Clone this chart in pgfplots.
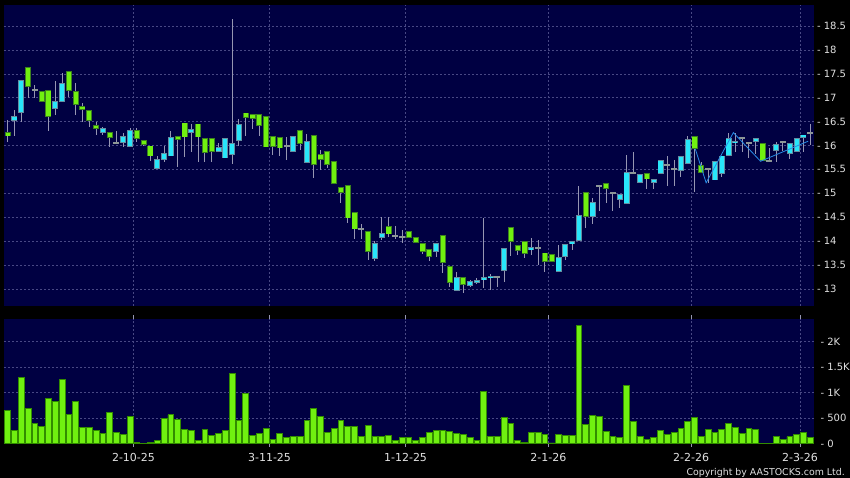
\documentclass[border=0pt]{standalone}
\usepackage{pgfplots}
\pgfplotsset{compat=1.18}
\usepackage{pgfplotstable}
\usepackage{fontspec}
\setmainfont{DejaVu Sans}
\definecolor{navy}{RGB}{0,0,66}
\definecolor{gridc}{RGB}{72,72,132}
\definecolor{wickc}{RGB}{150,150,178}
\definecolor{greenfill}{RGB}{112,240,16}
\definecolor{greenborder}{RGB}{60,130,30}
\definecolor{cyanfill}{RGB}{40,230,250}
\definecolor{cyanborder}{RGB}{100,140,160}
\definecolor{dojic}{RGB}{140,150,150}
\definecolor{lineblue}{RGB}{40,140,230}
\definecolor{labelc}{RGB}{225,225,225}
\definecolor{volborder}{RGB}{50,140,0}

\pgfplotstableread{
k O H L C
0 16.275 16.53 16.08 16.19
3 17.65 17.65 16.99 17.217
5 17.146 17.15 16.90 16.904
6 17.16 17.16 16.31 16.60
9 17.55 17.56 17.02 17.134
10 17.134 17.30 16.64 16.84
11 16.826 16.88 16.50 16.742
12 16.742 16.742 16.39 16.52
13 16.42 16.50 16.22 16.34
15 16.29 16.29 15.975 16.15
19 16.324 16.36 16.08 16.13
20 16.115 16.115 16.0 16.02
21 16.0 16.0 15.68 15.77
25 16.19 16.19 15.54 16.11
26 16.48 16.48 15.75 16.17
28 16.46 16.46 15.66 16.17
29 16.16 16.16 15.66 15.85
30 16.15 16.15 15.65 15.86
35 16.69 16.69 16.2 16.57
36 16.66 16.66 16.34 16.55
37 16.66 16.66 16.2 16.41
38 16.615 16.615 15.96 15.96
39 16.2 16.2 15.80 15.976
40 16.17 16.17 15.77 15.94
43 16.32 16.32 15.9 16.03
45 16.22 16.22 15.33 15.59
46 15.82 15.906 15.49 15.70
47 15.89 15.89 15.52 15.585
48 15.68 15.68 15.195 15.195
49 15.125 15.125 14.79 15.0
50 15.165 15.165 14.385 14.475
51 14.60 14.60 14.04 14.245
53 14.21 14.21 13.6 13.78
56 14.32 14.50 14.08 14.14
59 14.21 14.21 14.07 14.07
60 14.08 14.08 13.95 13.955
61 13.95 13.95 13.73 13.765
62 13.83 13.83 13.59 13.67
64 14.12 14.12 13.33 13.55
65 13.48 13.48 13.05 13.13
67 13.24 13.24 12.92 13.09
74 14.29 14.29 13.69 13.99
75 13.91 13.91 13.71 13.80
76 14.0 14.0 13.64 13.73
79 13.76 13.76 13.36 13.57
80 13.72 13.72 13.57 13.57
85 15.02 15.02 14.28 14.50
88 15.21 15.21 14.80 15.10
94 15.43 15.43 15.10 15.29
101 16.20 16.20 15.03 15.92
102 15.585 15.66 15.42 15.42
111 16.05 16.05 15.68 15.68
}\down

\pgfplotstableread{
k O H L C
1 16.506 16.743 16.206 16.617
2 16.673 17.38 16.50 17.37
7 16.764 17.35 16.64 16.93
8 16.916 17.52 16.90 17.30
14 16.255 16.39 16.22 16.36
17 16.046 16.27 15.975 16.20
18 15.975 16.36 15.975 16.324
22 15.51 15.77 15.50 15.72
23 15.70 16.0 15.65 15.84
24 15.77 16.30 15.77 16.18
27 16.255 16.44 15.86 16.34
31 15.86 16.06 15.86 15.96
32 15.73 16.15 15.73 16.15
33 15.80 18.65 15.62 16.05
34 16.10 16.56 16.0 16.45
42 15.86 16.2 15.86 16.2
44 15.63 16.24 15.63 16.09
54 13.62 14.01 13.59 13.95
55 14.07 14.51 14.02 14.16
63 13.765 13.95 13.67 13.95
66 12.95 13.36 12.95 13.24
68 13.07 13.19 13.03 13.165
69 13.12 13.22 13.10 13.19
70 13.18 14.49 13.01 13.245
71 13.22 13.32 12.98 13.26
73 13.38 13.85 13.15 13.85
77 13.815 14.06 13.70 13.875
81 13.36 13.92 13.36 13.66
82 13.66 13.93 13.6 13.93
83 13.94 14.0 13.81 14.0
84 14.0 15.15 14.0 14.55
86 14.50 14.90 14.35 14.81
90 14.87 14.98 14.70 14.98
91 14.78 15.80 14.78 15.44
93 15.21 15.40 15.21 15.40
95 15.21 15.29 15.10 15.29
96 15.41 15.70 15.41 15.69
99 15.46 15.78 15.35 15.78
100 15.61 16.20 15.61 16.13
104 15.27 15.68 15.27 15.68
105 15.40 15.79 15.35 15.79
106 15.78 16.27 15.78 16.15
107 16.05 16.27 15.87 16.10
110 16.08 16.15 15.83 16.15
113 15.885 16.08 15.66 16.025
115 15.82 16.05 15.72 16.05
116 15.87 16.16 15.87 16.15
117 16.15 16.23 15.87 16.23
}\up

\pgfplotstableread{
k O H L C
4 17.16 17.27 16.99 17.16
16 16.06 16.31 16.03 16.06
41 15.99 16.18 15.70 15.99
52 14.25 14.36 14.04 14.25
57 14.11 14.31 14.05 14.11
58 14.09 14.23 13.97 14.09
72 13.25 13.25 13.05 13.25
78 13.85 14.03 13.5 13.85
87 15.15 15.15 14.62 15.15
89 15.0 15.03 14.62 15.0
92 15.43 15.86 15.43 15.43
97 15.59 15.78 15.16 15.59
98 15.50 15.69 15.16 15.50
103 15.50 15.50 15.21 15.50
108 16.16 16.16 15.87 16.16
109 16.06 16.06 15.73 16.06
112 15.68 15.95 15.68 15.68
114 16.07 16.07 15.88 16.07
118 16.255 16.44 16.02 16.255
}\doji

\pgfplotstableread{
k v
0 654
1 261
2 1294
3 680
4 392
5 340
6 876
7 830
8 1261
9 575
10 830
11 314
12 314
13 261
14 196
15 608
16 222
17 170
18 523
19 20
20 5
21 20
22 59
23 484
24 562
25 477
26 281
27 261
28 65
29 281
30 163
31 196
32 248
33 1373
34 458
35 980
36 157
37 190
38 301
39 85
40 190
41 124
42 144
43 144
44 444
45 680
46 523
47 222
48 294
49 451
50 327
51 333
52 144
53 359
54 131
55 144
56 163
57 59
58 124
59 118
60 52
61 124
62 222
63 248
64 248
65 242
66 190
67 183
68 124
69 52
70 1013
71 131
72 131
73 516
74 399
75 59
76 20
77 209
78 222
79 176
80 10
81 176
82 163
83 150
84 2314
85 373
86 549
87 529
88 242
89 137
90 111
91 1131
92 431
93 131
94 72
95 111
96 261
97 183
98 209
99 294
100 425
101 516
102 137
103 275
104 216
105 268
106 386
107 320
108 190
109 294
110 275
111 5
112 5
113 131
114 85
115 137
116 170
117 216
118 118
}\vol

\pgfplotsset{
  panel/.style={
    scale only axis,
    xmin=-0.54, xmax=118.56,
    axis background/.style={fill=navy},
    axis line style={draw=none},
    xtick={18.5,38.5,58.5,79.5,100.5,116.5},
    xmajorgrids, ymajorgrids,
    major grid style={draw=gridc, dash pattern=on 2pt off 2pt, line width=0.6pt},
    ytick style={draw=none},
    yticklabel pos=right,
    tick label style={font=\fontsize{10}{12}\selectfont, text=labelc},
    yticklabel style={anchor=west, inner sep=0pt, xshift=3pt},
    /pgf/number format/assume math mode=true,
  },
  wick/.style={draw=none, mark=none, fill=none, forget plot,
    error bars/.cd, y dir=both, y explicit, error mark=none,
    error bar style={draw=wickc, line width=1pt, solid}},
  body/.style 2 args={draw=none, mark=none, fill=none, forget plot,
    error bars/.cd, y dir=both, y explicit, error mark=none,
    error bar style={draw=#1, line width=#2, solid}},
}

\begin{document}
\begin{tikzpicture}[x=1pt,y=1pt]
\fill[black] (0,0) rectangle (850,478);

% price panel
\begin{axis}[panel, at={(4pt,172pt)}, anchor=south west,
  width=810pt, height=301pt,
  ymin=12.642, ymax=18.94,
  ytick={13,13.5,14,14.5,15,15.5,16,16.5,17,17.5,18,18.5},
  yticklabel={-\hspace{3pt}\pgfmathprintnumber{\tick}},
  xticklabels={}, xtick style={draw=none}]
% wicks
\addplot[wick] table[x=k, y expr={(\thisrow{H}+\thisrow{L})/2}, y error expr={(\thisrow{H}-\thisrow{L})/2}] \down;
\addplot[wick] table[x=k, y expr={(\thisrow{H}+\thisrow{L})/2}, y error expr={(\thisrow{H}-\thisrow{L})/2}] \up;
\addplot[wick] table[x=k, y expr={(\thisrow{H}+\thisrow{L})/2}, y error expr={(\thisrow{H}-\thisrow{L})/2}] \doji;
% bodies: down (green)
\addplot[body={greenborder}{6pt}] table[x=k, y expr={(\thisrow{O}+\thisrow{C})/2}, y error expr={max(abs(\thisrow{O}-\thisrow{C})/2,0.012)}] \down;
\addplot[body={greenfill}{4.2pt}] table[x=k, y expr={(\thisrow{O}+\thisrow{C})/2}, y error expr={max(abs(\thisrow{O}-\thisrow{C})/2-0.018,0.0001)}] \down;
% bodies: up (cyan)
\addplot[body={cyanborder}{6pt}] table[x=k, y expr={(\thisrow{O}+\thisrow{C})/2}, y error expr={max(abs(\thisrow{O}-\thisrow{C})/2,0.012)}] \up;
\addplot[body={cyanfill}{4.2pt}] table[x=k, y expr={(\thisrow{O}+\thisrow{C})/2}, y error expr={max(abs(\thisrow{O}-\thisrow{C})/2-0.018,0.0001)}] \up;
% doji dashes
\addplot[body={dojic}{6pt}] table[x=k, y=C, y error expr={0.022}] \doji;
% thin line drawn over the last weeks
\addplot[lineblue, line width=0.8pt, mark=none] coordinates {(101.1,15.93) (102.7,15.22) (106.7,16.27) (110.7,15.67) (117.7,16.09)};
\end{axis}

% volume panel
\begin{axis}[panel, at={(4pt,34.5pt)}, anchor=south west,
  width=810pt, height=124.5pt,
  ymin=0, ymax=2440,
  ytick={0,500,1000,1500,2000},
  yticklabels={-\hspace{3pt}0,-\hspace{3pt}500,-\hspace{3pt}1K,-\hspace{3pt}1.5K,-\hspace{3pt}2K},
  xticklabels={2-10-25,3-11-25,1-12-25,2-1-26,2-2-26,2-3-26},
  xtick style={draw=wickc, line width=0.8pt},
  tick align=outside, major tick length=3.5pt,
  xticklabel style={anchor=north, inner sep=0pt, yshift=-6pt, font=\fontsize{11}{12}\selectfont}]
\addplot[ybar, bar width=5.8pt, fill=greenfill, draw=volborder, line width=0.8pt] table[x=k, y=v] \vol;
\end{axis}

\node[anchor=east, inner sep=0pt, text=labelc, font=\fontsize{9.4}{10}\selectfont] at (845,5.5) {Copyright by AASTOCKS.com Ltd.};

\pgfresetboundingbox
\path (0,0) rectangle (850,478);
\end{tikzpicture}
\end{document}
